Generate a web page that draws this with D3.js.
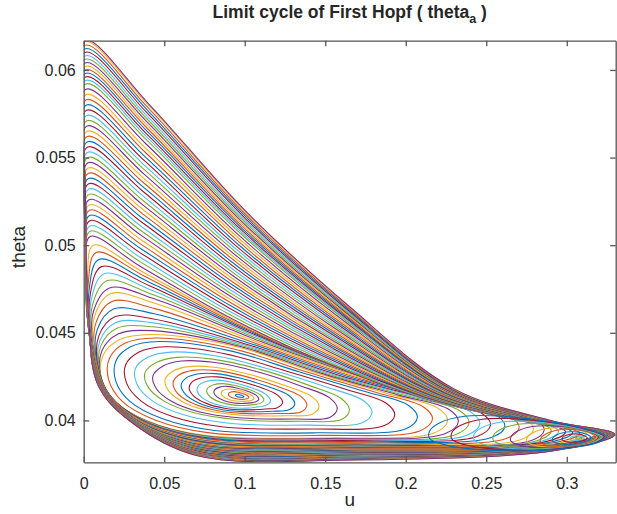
<!DOCTYPE html>
<html>
<head>
<meta charset="utf-8">
<script src="https://cdn.jsdelivr.net/npm/d3@7"></script>
<style>
body { margin: 0; background: #fff; }
text { font-family: "Liberation Sans", Arial, Helvetica, sans-serif; fill: #262626; }
</style>
</head>
<body>
<svg id="chart" width="617" height="514"></svg>
<script>
// axis setup
var xTicks = [0, 0.05, 0.1, 0.15, 0.2, 0.25, 0.3];
var yTicks = [0.04, 0.045, 0.05, 0.055, 0.06];
var xDomain = [0, 0.3304];
var yDomain = [0.03761, 0.06167];
var lineColors = ["#0072BD", "#D95319", "#EDB120", "#7E2F8E", "#77AC30", "#4DBEEE", "#A2142F"];

// family from the first Hopf point: key cycles (14 knots, right end first, counter-clockwise)
// keyed by the highest theta each reaches
var keyTopA = [0.0415, 0.0423, 0.0436, 0.0449, 0.0476, 0.0505, 0.0617];
var keyA0 = [[0.0995,0.04136],[0.0990,0.04140],[0.0981,0.04144],[0.0970,0.04147],[0.0960,0.04149],[0.0951,0.04149],[0.0945,0.04147],[0.0943,0.04143],[0.0947,0.04139],[0.0955,0.04135],[0.0966,0.04133],[0.0978,0.04132],[0.0988,0.04132],[0.0993,0.04134]];
var keyA1 = [[0.1160,0.04110],[0.1130,0.04150],[0.1030,0.04190],[0.0920,0.04218],[0.0830,0.04230],[0.0760,0.04222],[0.0712,0.04198],[0.0705,0.04168],[0.0735,0.04130],[0.0810,0.04095],[0.0910,0.04074],[0.1010,0.04070],[0.1090,0.04078],[0.1130,0.04085]];
var keyA2 = [[0.1650,0.04060],[0.1600,0.04125],[0.1400,0.04200],[0.1100,0.04290],[0.0800,0.04350],[0.0580,0.04360],[0.0450,0.04330],[0.0380,0.04270],[0.0400,0.04190],[0.0500,0.04110],[0.0680,0.04045],[0.0950,0.04005],[0.1350,0.03995],[0.1600,0.04005]];
var keyA3 = [[0.2260,0.04000],[0.2200,0.04070],[0.1900,0.04150],[0.1450,0.04270],[0.0950,0.04420],[0.0420,0.04490],[0.0220,0.04460],[0.0120,0.04370],[0.0110,0.04240],[0.0190,0.04110],[0.0400,0.03995],[0.0750,0.03915],[0.1500,0.03900],[0.2180,0.03930]];
var keyA4 = [[0.2860,0.03945],[0.2800,0.04010],[0.2400,0.04100],[0.1800,0.04230],[0.1100,0.04450],[0.0450,0.04690],[0.0160,0.04756],[0.0060,0.04620],[0.0060,0.04400],[0.0130,0.04180],[0.0320,0.04010],[0.0720,0.03890],[0.1700,0.03865],[0.2780,0.03885]];
var keyA5 = [[0.3180,0.03920],[0.2700,0.04000],[0.2100,0.04130],[0.1500,0.04330],[0.0900,0.04590],[0.0350,0.04880],[0.0040,0.05050],[0.0015,0.04870],[0.0030,0.04520],[0.0100,0.04230],[0.0300,0.04010],[0.0700,0.03870],[0.1700,0.03850],[0.3000,0.03870]];
var keyA6 = [[0.3300,0.03920],[0.2900,0.04000],[0.2300,0.04180],[0.1650,0.04650],[0.1000,0.05200],[0.0400,0.05810],[0.0005,0.06170],[0.0010,0.05350],[0.0030,0.04600],[0.0090,0.04200],[0.0290,0.03995],[0.0700,0.03800],[0.1700,0.03775],[0.2900,0.03825]];
// max theta of every plotted cycle of that family
var topsA = [0.0415, 0.04165, 0.0418, 0.04195, 0.0421, 0.0423, 0.0425, 0.0427, 0.0429, 0.0431,
  0.0434, 0.0436, 0.0439, 0.0442, 0.0445, 0.0447, 0.0449, 0.0452, 0.0455, 0.0458,
  0.0461, 0.0465, 0.0469, 0.0473, 0.0476, 0.0480, 0.0484, 0.0488, 0.0492, 0.0496,
  0.0500, 0.0505, 0.0508, 0.0511, 0.0514, 0.0517, 0.0520, 0.0523, 0.0526, 0.0529,
  0.0532, 0.0535, 0.0538, 0.0541, 0.0544, 0.0547, 0.0550, 0.0553, 0.0556, 0.0559,
  0.0562, 0.0565, 0.0568, 0.0571, 0.0574, 0.0577, 0.0580, 0.0583, 0.0586, 0.0589,
  0.0592, 0.0594, 0.0596, 0.0598, 0.0600, 0.0602, 0.0604, 0.0606, 0.0608, 0.0610,
  0.0612, 0.0614, 0.0616, 0.0617];

// small loops round the right-hand point, keyed by their smallest u
var keyLeftB = [0.3055, 0.2835, 0.2000];
var keyB0 = [[0.3095,0.03898],[0.3090,0.03902],[0.3082,0.03905],[0.3074,0.03906],[0.3066,0.03905],[0.3059,0.03903],[0.3056,0.03900],[0.3057,0.03897],[0.3062,0.03894],[0.3070,0.03893],[0.3078,0.03893],[0.3086,0.03894],[0.3092,0.03895],[0.3095,0.03897]];
var keyB1 = [[0.3180,0.03905],[0.3140,0.03930],[0.3070,0.03948],[0.3000,0.03950],[0.2930,0.03942],[0.2870,0.03922],[0.2840,0.03900],[0.2835,0.03880],[0.2860,0.03862],[0.2920,0.03852],[0.3000,0.03850],[0.3070,0.03858],[0.3130,0.03872],[0.3165,0.03888]];
var keyB2 = [[0.3260,0.03910],[0.3100,0.03960],[0.2800,0.04010],[0.2500,0.04040],[0.2250,0.04040],[0.2080,0.04000],[0.2010,0.03950],[0.2010,0.03900],[0.2120,0.03860],[0.2350,0.03830],[0.2650,0.03820],[0.2900,0.03830],[0.3100,0.03850],[0.3220,0.03880]];
var leftsB = [0.3055, 0.302, 0.297, 0.291, 0.2835, 0.275, 0.265, 0.254, 0.242, 0.228, 0.214];

var keysA = [keyA0, keyA1, keyA2, keyA3, keyA4, keyA5, keyA6];
var keysB = [keyB0, keyB1, keyB2];

function knotsAt(keys, keyVals, v) {
  var i = 0;
  while (i < keyVals.length - 2 && !((v - keyVals[i]) * (v - keyVals[i + 1]) <= 0)) i++;
  var t = (v - keyVals[i]) / (keyVals[i + 1] - keyVals[i]);
  return keys[i].map(function(p, j) {
    var q = keys[i + 1][j];
    return [p[0] + (q[0] - p[0]) * t, p[1] + (q[1] - p[1]) * t];
  });
}

var cycles = [];
topsA.forEach(function(v) { cycles.push(knotsAt(keysA, keyTopA, v)); });
leftsB.forEach(function(v) { cycles.push(knotsAt(keysB, keyLeftB, v)); });

var svg = d3.select("#chart");
var plotL = 83.7, plotR = 615.7, plotT = 40.7, plotB = 462.3;

var x = d3.scaleLinear().domain(xDomain).range([plotL, plotR]);
var y = d3.scaleLinear().domain(yDomain).range([plotB, plotT]);

svg.append("clipPath").attr("id", "plotClip")
  .append("rect")
  .attr("x", plotL).attr("y", plotT)
  .attr("width", plotR - plotL).attr("height", plotB - plotT);

var line = d3.line()
  .x(function(d) { return x(d[0]); })
  .y(function(d) { return y(d[1]); })
  .curve(d3.curveCatmullRomClosed.alpha(0.5));

svg.append("g").attr("clip-path", "url(#plotClip)")
  .selectAll("path.cycle")
  .data(cycles)
  .enter()
  .append("path")
  .attr("class", "cycle")
  .attr("d", line)
  .style("fill", "none")
  .style("stroke", function(d, i) { return lineColors[i % lineColors.length]; })
  .style("stroke-width", 1.1);

// box with inward ticks like matlab
var tickLen = 5.5;
svg.append("g").attr("transform", "translate(0," + plotB + ")")
  .call(d3.axisBottom(x).tickValues(xTicks).tickSizeInner(-tickLen).tickSizeOuter(0).tickPadding(15)
    .tickFormat(d3.format("")));
svg.append("g").attr("transform", "translate(" + plotL + ",0)")
  .call(d3.axisLeft(y).tickValues(yTicks).tickSizeInner(-tickLen).tickSizeOuter(0).tickPadding(8)
    .tickFormat(d3.format("")));
svg.append("g").attr("transform", "translate(0," + plotT + ")")
  .call(d3.axisTop(x).tickValues(xTicks).tickSizeInner(-tickLen).tickSizeOuter(0).tickFormat(""));
svg.append("g").attr("transform", "translate(" + plotR + ",0)")
  .call(d3.axisRight(y).tickValues(yTicks).tickSizeInner(-tickLen).tickSizeOuter(0).tickFormat(""));

svg.selectAll(".domain").style("stroke", "#555").style("stroke-width", 1.3);
svg.selectAll(".tick line").style("stroke", "#555").style("stroke-width", 1.3);
svg.selectAll(".tick text").style("font-size", "16px").style("fill", "#262626")
  .style("font-family", "'Liberation Sans', Arial, sans-serif");

var title = svg.append("text")
  .attr("x", (plotL + plotR) / 2).attr("y", 18)
  .attr("text-anchor", "middle")
  .style("font-size", "17.5px").style("font-weight", "bold");
title.append("tspan").text("Limit cycle of First Hopf ( theta");
title.append("tspan").attr("dy", 5).style("font-size", "12.5px").text("a");
title.append("tspan").attr("dy", -5).text(" )");

svg.append("text")
  .attr("x", (plotL + plotR) / 2).attr("y", 506)
  .attr("text-anchor", "middle")
  .style("font-size", "19px")
  .text("u");

svg.append("text")
  .attr("transform", "translate(25,247) rotate(-90)")
  .attr("text-anchor", "middle")
  .style("font-size", "19px")
  .text("theta");
</script>
</body>
</html>
